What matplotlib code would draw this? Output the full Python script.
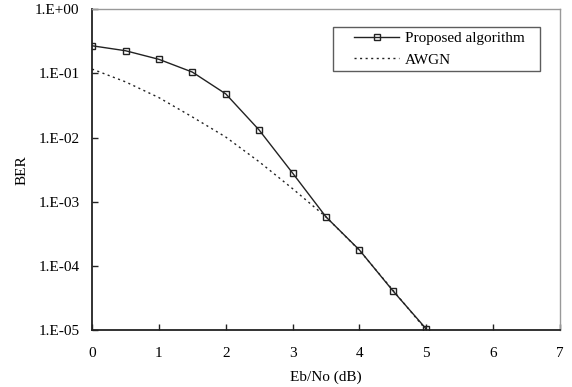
import matplotlib
matplotlib.use('Agg')
import matplotlib.pyplot as plt
from matplotlib.ticker import FixedLocator, NullLocator
from matplotlib.legend_handler import HandlerLine2D

plt.rcParams['font.family'] = 'Liberation Serif'

# Eb/No in dB
ebno = [0, 0.5, 1, 1.5, 2, 2.5, 3, 3.5, 4, 4.5, 5]
ber_proposed = [0.27, 0.226, 0.166, 0.105, 0.048, 0.0131, 0.0028, 5.8e-4, 1.77e-4, 4.1e-5, 1.04e-5]
ber_awgn = [0.117, 0.074, 0.042, 0.021, 0.0102, 0.0042, 0.0016, 5.8e-4, 1.75e-4, 4.2e-5, 1.0e-5]

ytick_vals = [1e0, 1e-1, 1e-2, 1e-3, 1e-4, 1e-5]
ytick_labels = ['1.E+00', '1.E-01', '1.E-02', '1.E-03', '1.E-04', '1.E-05']

fig = plt.figure(figsize=(5.72, 3.87), dpi=100)
ax = fig.add_axes([0.161, 0.147, 0.818, 0.829])

l1, = ax.plot(ebno, ber_proposed, '-', color='#222222', lw=1.0, marker='s', ms=5,
              mfc='none', mec='#222222', mew=1.0, label='Proposed algorithm')
l2, = ax.plot(ebno, ber_awgn, color='#222222', lw=1.0, ls=(0, (1.5, 2.5)), label='AWGN')

ax.set_yscale('log')
ax.set_ylim(1e-5, 1)
ax.set_xlim(0, 7)
ax.yaxis.set_major_locator(FixedLocator(ytick_vals))
ax.yaxis.set_minor_locator(NullLocator())
ax.set_yticklabels(ytick_labels)
ax.set_xticks(range(8))

ax.tick_params(direction='in', length=4, width=1, labelsize=11, color='#222222')
ax.tick_params(axis='x', pad=12)
ax.tick_params(axis='y', pad=9)

for s in ['left', 'bottom']:
    ax.spines[s].set_color('#222222')
    ax.spines[s].set_linewidth(1.3)
for s in ['top', 'right']:
    ax.spines[s].set_color('#999999')
    ax.spines[s].set_linewidth(1.0)

ax.set_xlabel('Eb/No (dB)', fontsize=11, labelpad=8)
ax.set_ylabel('BER', fontsize=11, labelpad=5)

# legend box with wider left margin, like the original
hm = {l1: HandlerLine2D(xpad=1.1), l2: HandlerLine2D(xpad=1.1)}
leg = ax.legend(handler_map=hm, loc='upper left', mode='expand',
                bbox_to_anchor=(0.515, 0.745, 0.442, 0.2), fontsize=11,
                fancybox=False, handlelength=4.0, handletextpad=0.4,
                borderpad=0.3, labelspacing=0.5, borderaxespad=0)
leg.get_frame().set_edgecolor('#333333')
leg.get_frame().set_linewidth(1.0)

fig.savefig('out.png', dpi=100)
